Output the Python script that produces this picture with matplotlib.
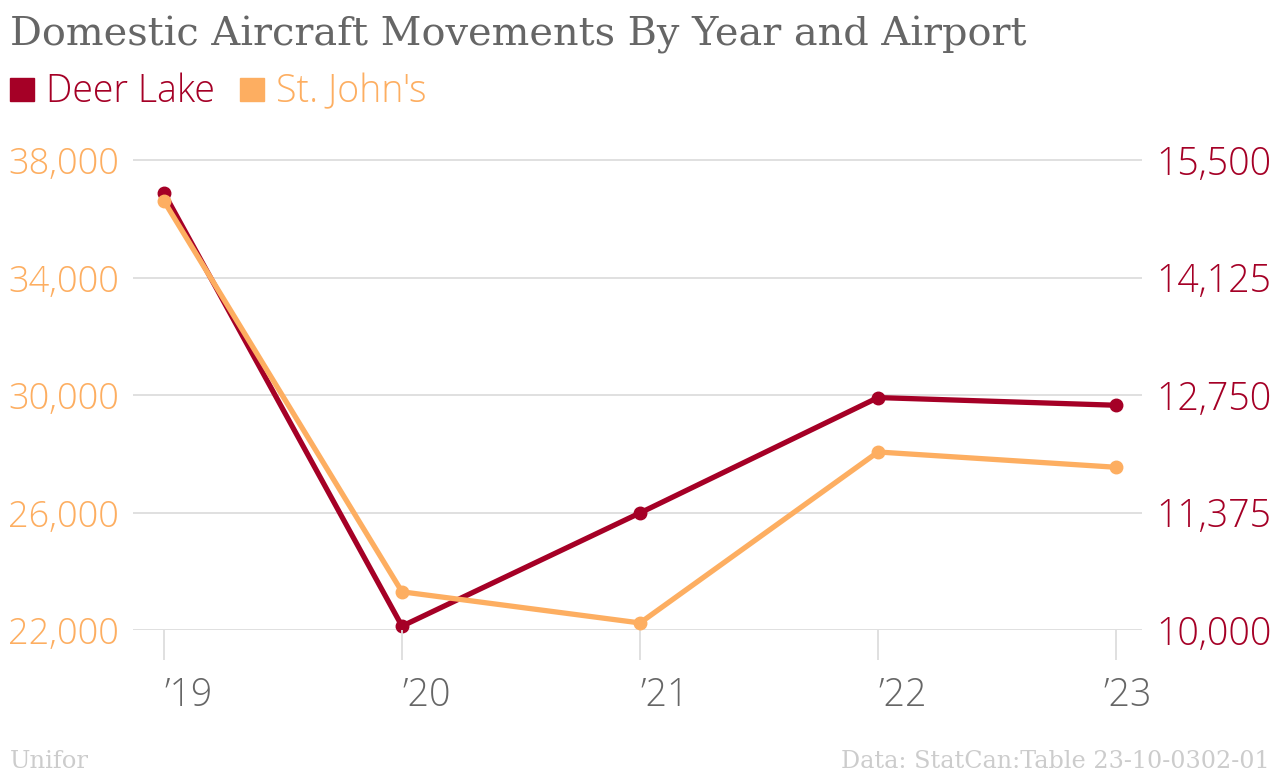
import matplotlib.pyplot as plt
from matplotlib.transforms import ScaledTranslation

# data
years = [2019, 2020, 2021, 2022, 2023]
year_labels = ["\u201919", "\u201920", "\u201921", "\u201922", "\u201923"]
deer_lake = [15115, 10045, 11370, 12720, 12630]
st_johns = [36600, 23300, 22240, 28060, 27540]

left_ticks = [22000, 26000, 30000, 34000, 38000]
right_ticks = [10000, 11375, 12750, 14125, 15500]

red = "#a50026"
orange = "#fdae61"
grey = "#666666"
sans = ["Open Sans", "DejaVu Sans"]

fig = plt.figure(figsize=(12.8, 7.76), dpi=100)
ax = fig.add_axes([133 / 1280, 1 - 630 / 776, (1142 - 133) / 1280, 490 / 776])
ax2 = ax.twinx()

ax.set_xlim(2019 - 31 / 238, 2023 + 26 / 238)
ax.set_ylim(22000, 38000 + 20 / 117.5 * 4000)
ax2.set_ylim(10000, 15500 + 20 / 117.5 * 1375)

# gridlines on the bottom axes (right ticks sit at the same heights)
for v in right_ticks:
    ax2.axhline(v, color="#dddddd", lw=1.3, zorder=0)

ax2.plot(years, deer_lake, color=red, lw=3.8, marker="o", ms=9, zorder=3, clip_on=False)
ax.plot(years, st_johns, color=orange, lw=3.8, marker="o", ms=9, zorder=3, clip_on=False)
ax.set_zorder(ax2.get_zorder() + 1)
ax.patch.set_visible(False)

for a in (ax, ax2):
    for s in a.spines.values():
        s.set_visible(False)

ax.set_yticks(left_ticks)
ax.set_yticklabels(["{:,}".format(v) for v in left_ticks])
ax.tick_params(axis="y", length=0, pad=10, labelcolor=orange, labelsize=26)
ax2.set_yticks(right_ticks)
ax2.set_yticklabels(["{:,}".format(v) for v in right_ticks])
ax2.tick_params(axis="y", length=0, pad=10, labelcolor=red, labelsize=27)

ax.set_xticks(years)
ax.set_xticklabels(year_labels)
ax.tick_params(axis="x", length=21.6, width=1.3, color="#dddddd", pad=12,
               labelcolor=grey, labelsize=27)
for i, lab in enumerate(ax.get_xticklabels()):
    lab.set_horizontalalignment("left")
    if i == len(years) - 1:
        lab.set_transform(lab.get_transform() + ScaledTranslation(-0.13, 0, fig.dpi_scale_trans))

for lab in ax.get_yticklabels() + ax2.get_yticklabels() + ax.get_xticklabels():
    lab.set_family(sans)
    lab.set_fontweight("light")

# title, legend, footer
fig.text(10 / 1280, 1 - 35 / 776, "Domestic Aircraft Movements By Year and Airport",
         family="DejaVu Serif", fontsize=28.7, color=grey, va="center", ha="left")

fig.patches.append(plt.Rectangle((10 / 1280, 1 - 101 / 776), 24 / 1280, 23 / 776,
                                 transform=fig.transFigure, color=red))
fig.text(46 / 1280, 1 - 92 / 776, "Deer Lake", family=sans, fontweight="light",
         fontsize=27, color=red, va="center", ha="left")
fig.patches.append(plt.Rectangle((240 / 1280, 1 - 101 / 776), 24 / 1280, 23 / 776,
                                 transform=fig.transFigure, color=orange))
fig.text(276 / 1280, 1 - 92 / 776, "St. John's", family=sans, fontweight="light",
         fontsize=27, color=orange, va="center", ha="left")

fig.text(10 / 1280, 1 - 762 / 776, "Unifor", family="DejaVu Serif", fontsize=17.5,
         color="#cccccc", va="center", ha="left")
fig.text(1270 / 1280, 1 - 762 / 776, "Data: StatCan:Table 23-10-0302-01",
         family="DejaVu Serif", fontsize=17.2, color="#cccccc", va="center", ha="right")

fig.savefig("out.png", dpi=100)
